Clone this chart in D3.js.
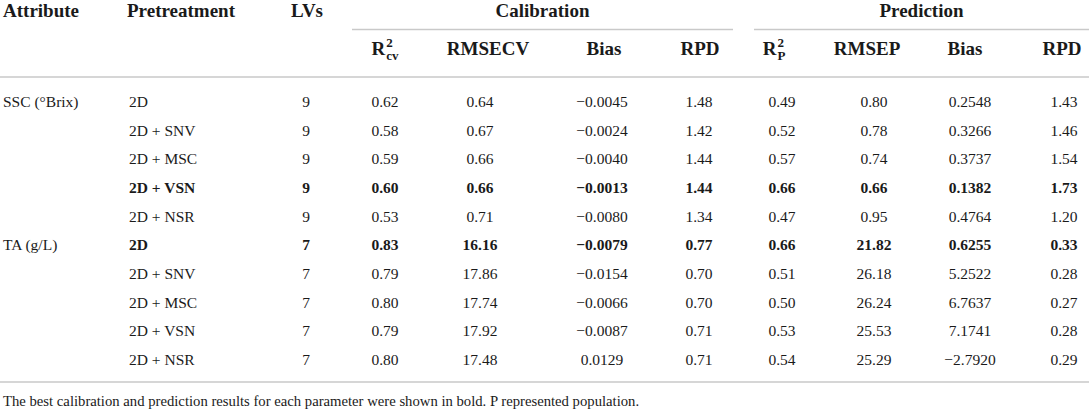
<!DOCTYPE html>
<html>
<head>
<meta charset="utf-8">
<script src="https://cdn.jsdelivr.net/npm/d3@7"></script>
<style>
  body { margin: 0; background: #fff; }
  svg text { font-family: "Liberation Serif", "Times New Roman", serif; fill: #1a1a1a; }
</style>
</head>
<body>
<div id="table"></div>
<script>
// table values
var attributes = ["SSC (\u00B0Brix)", "TA (g/L)"];
var pretreatments = ["2D", "2D + SNV", "2D + MSC", "2D + VSN", "2D + NSR"];
var lvs = [9, 9, 9, 9, 9, 7, 7, 7, 7, 7];
var r2cv = [0.62, 0.58, 0.59, 0.60, 0.53, 0.83, 0.79, 0.80, 0.79, 0.80];
var rmsecv = [0.64, 0.67, 0.66, 0.66, 0.71, 16.16, 17.86, 17.74, 17.92, 17.48];
var biasCal = [-0.0045, -0.0024, -0.0040, -0.0013, -0.0080, -0.0079, -0.0154, -0.0066, -0.0087, 0.0129];
var rpdCal = [1.48, 1.42, 1.44, 1.44, 1.34, 0.77, 0.70, 0.70, 0.71, 0.71];
var r2p = [0.49, 0.52, 0.57, 0.66, 0.47, 0.66, 0.51, 0.50, 0.53, 0.54];
var rmsep = [0.80, 0.78, 0.74, 0.66, 0.95, 21.82, 26.18, 26.24, 25.53, 25.29];
var biasPred = [0.2548, 0.3266, 0.3737, 0.1382, 0.4764, 0.6255, 5.2522, 6.7637, 7.1741, -2.7920];
var rpdPred = [1.43, 1.46, 1.54, 1.73, 1.20, 0.33, 0.28, 0.27, 0.28, 0.29];
var bestRows = [3, 5];
var footnote = "The best calibration and prediction results for each parameter were shown in bold. P represented population.";

var width = 1089, height = 413;
var headFont = 19, bodyFont = 15.5, smallFont = 13;

var svg = d3.select("#table").append("svg")
    .attr("width", width)
    .attr("height", height);

var f2 = d3.format(".2f"), f4 = d3.format(".4f");

// columns: key, header, sub, values, format
var cols = [
  {key: "lv", head: "LVs", vals: lvs, fmt: String},
  {key: "r2cv", head: "R", sub: "cv", vals: r2cv, fmt: f2},
  {key: "rmsecv", head: "RMSECV", vals: rmsecv, fmt: f2},
  {key: "biasc", head: "Bias", vals: biasCal, fmt: f4},
  {key: "rpdc", head: "RPD", vals: rpdCal, fmt: f2},
  {key: "r2p", head: "R", sub: "P", vals: r2p, fmt: f2},
  {key: "rmsep", head: "RMSEP", vals: rmsep, fmt: f2},
  {key: "biasp", head: "Bias", vals: biasPred, fmt: f4},
  {key: "rpdp", head: "RPD", vals: rpdPred, fmt: f2}
];
var keys = cols.map(function(c) { return c.key; });

// value column centres and header centres
var x = d3.scaleOrdinal().domain(keys)
    .range([306, 385, 480, 602, 699, 782, 874, 970, 1064]);
var hx = d3.scaleOrdinal().domain(keys)
    .range([307, 385, 488, 604, 700, 774, 867, 965, 1062]);

var y = d3.scalePoint()
    .domain(d3.range(lvs.length))
    .range([107, 365]);

var lineColor = "#c9c9c9";

// header row 1
var head1 = 17, head2 = 55;
svg.append("text").attr("x", 3).attr("y", head1)
    .attr("font-weight", "bold").attr("font-size", headFont).text("Attribute");
svg.append("text").attr("x", 127).attr("y", head1)
    .attr("font-weight", "bold").attr("font-size", headFont).text("Pretreatment");
svg.append("text").attr("x", hx("lv")).attr("y", head1)
    .attr("text-anchor", "middle")
    .attr("font-weight", "bold").attr("font-size", headFont).text("LVs");

var groups = [
  {name: "Calibration", x0: 352, x1: 733},
  {name: "Prediction", x0: 754, x1: 1089}
];
groups.forEach(function(g) {
  svg.append("text").attr("x", (g.x0 + g.x1) / 2).attr("y", head1)
      .attr("text-anchor", "middle")
      .attr("font-weight", "bold").attr("font-size", headFont).text(g.name);
  svg.append("line")
      .attr("x1", g.x0).attr("x2", g.x1).attr("y1", 29.5).attr("y2", 29.5)
      .attr("stroke", lineColor).attr("stroke-width", 1.5);
});

// header row 2
cols.slice(1).forEach(function(c) {
  var g = svg.append("g");
  var t = g.append("text").attr("x", 0).attr("y", head2)
      .attr("font-weight", "bold").attr("font-size", headFont).text(c.head);
  var w = t.node().getComputedTextLength();
  if (c.sub) {
    var sup = g.append("text").attr("x", w + 1).attr("y", head2 - 8)
        .attr("font-weight", "bold").attr("font-size", smallFont).text("2");
    var sb = g.append("text").attr("x", w + 1).attr("y", head2 + 5)
        .attr("font-weight", "bold").attr("font-size", smallFont).text(c.sub);
    w += 1 + Math.max(sup.node().getComputedTextLength(), sb.node().getComputedTextLength());
  }
  g.attr("transform", "translate(" + (hx(c.key) - w / 2) + ",0)");
});

// rules
svg.append("line").attr("x1", 0).attr("x2", width).attr("y1", 77).attr("y2", 77)
    .attr("stroke", lineColor).attr("stroke-width", 1.5);
svg.append("line").attr("x1", 0).attr("x2", width).attr("y1", 382).attr("y2", 382)
    .attr("stroke", lineColor).attr("stroke-width", 1.5);

// body rows
var rows = d3.range(lvs.length);
var isBold = function(i) { return bestRows.indexOf(i) >= 0 ? "bold" : "normal"; };

svg.selectAll(".attr").data(attributes).enter().append("text")
    .attr("class", "attr")
    .attr("x", 3)
    .attr("y", function(d, i) { return y(i * pretreatments.length); })
    .attr("font-size", bodyFont)
    .text(function(d) { return d; });

svg.selectAll(".pre").data(rows).enter().append("text")
    .attr("class", "pre")
    .attr("x", 129)
    .attr("y", function(i) { return y(i); })
    .attr("font-size", bodyFont)
    .attr("font-weight", isBold)
    .text(function(i) { return pretreatments[i % pretreatments.length]; });

cols.forEach(function(c) {
  svg.selectAll(".v-" + c.key).data(rows).enter().append("text")
      .attr("class", "v-" + c.key)
      .attr("x", x(c.key))
      .attr("y", function(i) { return y(i); })
      .attr("text-anchor", "middle")
      .attr("font-size", bodyFont)
      .attr("font-weight", isBold)
      .text(function(i) { return c.fmt(c.vals[i]); });
});

svg.append("text").attr("x", 3).attr("y", 406)
    .attr("font-size", 14.7).text(footnote);
</script>
</body>
</html>
